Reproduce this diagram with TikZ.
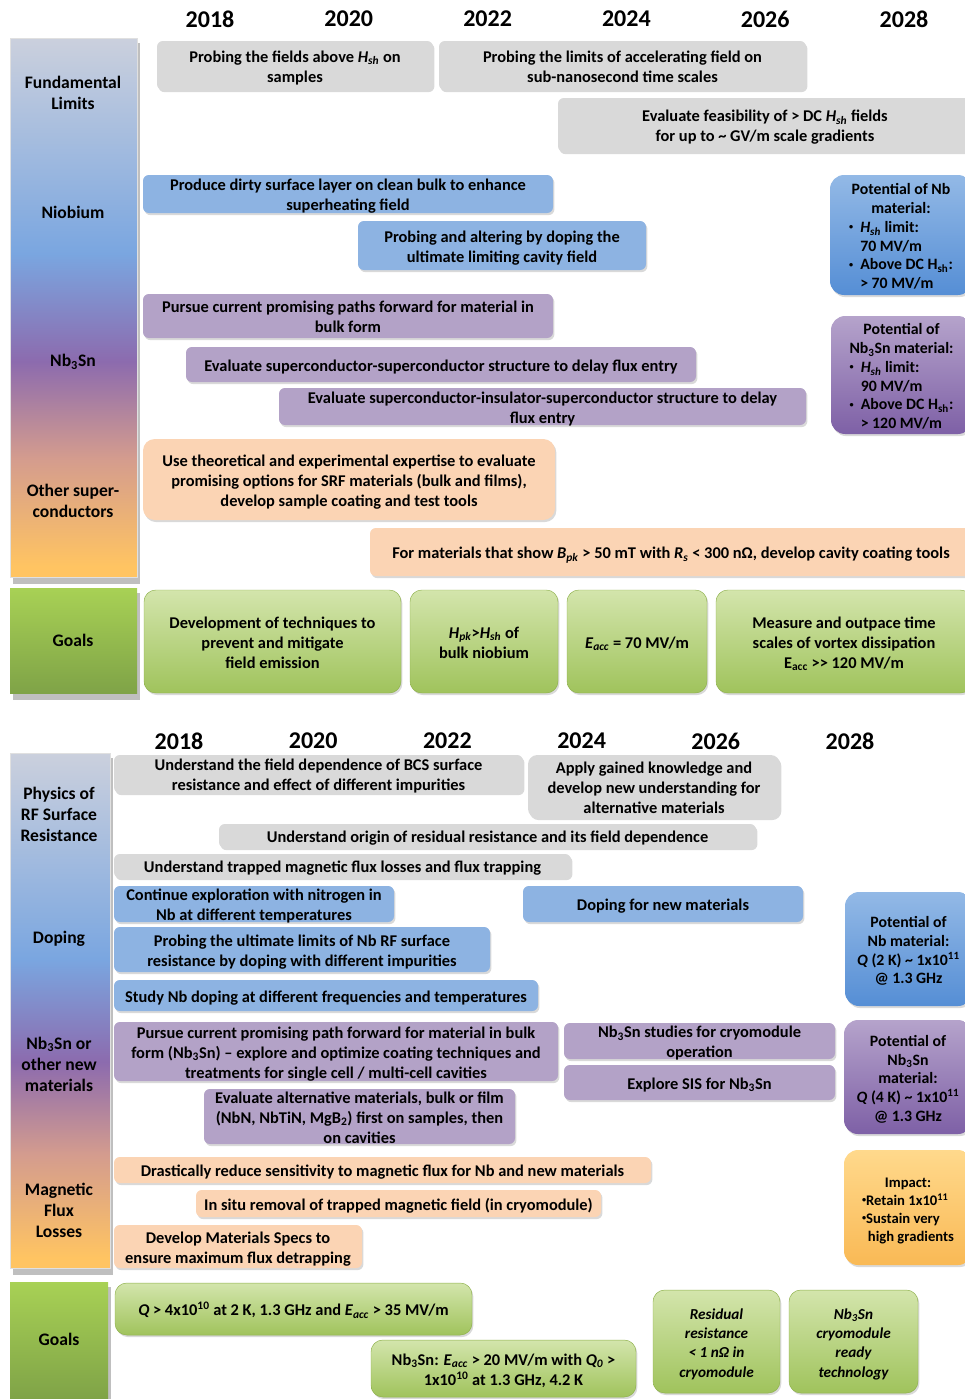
\documentclass[tikz,border=0pt]{standalone}
\usepackage{fontspec}
\setmainfont{Carlito}
\usetikzlibrary{shadows}

\definecolor{boxgrey}{HTML}{D9D9D9}
\definecolor{boxblue}{HTML}{8DB3E2}
\definecolor{boxpurple}{HTML}{B3A2C7}
\definecolor{boxpeach}{HTML}{FBD4B4}
\definecolor{potbluetop}{HTML}{93B9E6}
\definecolor{potbluebot}{HTML}{558ED5}
\definecolor{potpurptop}{HTML}{B5A3CB}
\definecolor{potpurpbot}{HTML}{7E60A6}
\definecolor{impacttop}{HTML}{FFD98C}
\definecolor{impactbot}{HTML}{F9B955}
\definecolor{goaltop}{HTML}{D3E5AC}
\definecolor{goalbot}{HTML}{A0C35C}
\definecolor{goalline}{HTML}{8DB04A}
\definecolor{bargrey}{HTML}{CBD0DD}
\definecolor{barblue}{HTML}{7AA6E0}
\definecolor{barpurple}{HTML}{8C6BAE}
\definecolor{barrose}{HTML}{D49C8E}
\definecolor{barorange}{HTML}{FFC462}
\definecolor{bargreentop}{HTML}{A8D155}
\definecolor{bargreenbot}{HTML}{7FA347}

\pgfdeclareverticalshading{roadbar}{100bp}{color(0bp)=(barorange); color(26bp)=(barorange); color(36bp)=(barrose); color(45bp)=(barpurple); color(55bp)=(barblue); color(75bp)=(bargrey); color(100bp)=(bargrey)}

\newcommand{\Hsh}{\textit{H}\textsubscript{\textit{sh}}}
\newcommand{\Eacc}{\textit{E}\textsubscript{\textit{acc}}}
\newcommand{\NbSn}{Nb\textsubscript{3}Sn}
\newcommand{\dotitem}{\raisebox{0.18em}{\scriptsize\textbullet}}
% box between two corners (in px): style, name, x1, y1, x2, y2, text
\newcommand{\taskbox}[7]{\node[#1, minimum width={(#5-#3)*0.03cm}, minimum height={(#6-#4)*0.03cm}] (#2) at ({(#3+#5)/2},{(#4+#6)/2}) {\rule{0pt}{16.5pt}#7\strut};}

\begin{document}
\begin{tikzpicture}[x=0.03cm, y=-0.03cm,
    task/.style={rounded corners=5pt, inner xsep=0pt, inner ysep=-6pt, align=center,
      font=\bfseries\fontsize{14}{17}\selectfont,
      drop shadow={opacity=0.3, shadow xshift=1.2pt, shadow yshift=-1.8pt}},
    greytask/.style={task, fill=boxgrey},
    bluetask/.style={task, fill=boxblue},
    purpletask/.style={task, fill=boxpurple},
    peachtask/.style={task, fill=boxpeach},
    potential/.style={task, rounded corners=12pt, font=\bfseries\fontsize{13.5}{16}\selectfont},
    goal/.style={task, rounded corners=10pt, draw=goalline, top color=goaltop, bottom color=goalbot},
    catlabel/.style={align=center, font=\bfseries\fontsize{15}{18}\selectfont},
    year/.style={font=\bfseries\fontsize{20.5}{24}\selectfont}]

  \useasboundingbox (0,0) rectangle (965,1399);

  % ---------- top chart ----------
  % years
  \foreach \yr [count=\i from 0] in {2018,2020,2022,2024,2026,2028}
    \node[year] (yrA\yr) at (210+138.8*\i,19) {\yr};

  % category bar
  \fill[black!25] (13,43) rectangle (140,584);
  \shade[shading=roadbar, draw=black!12] (10,38) rectangle (137,577);
  \fill[black!25] (13,593) rectangle (140,700);
  \shade[top color=bargreentop, bottom color=bargreenbot] (10,588) rectangle (137,693);

  \node[catlabel] (catFund) at (73,93) {Fundamental\\Limits};
  \node[catlabel] (catNb) at (73,212) {Niobium};
  \node[catlabel] (catNbSn) at (73,362) {\NbSn};
  \node[catlabel] (catOther) at (73,501) {Other super-\\conductors};
  \node[catlabel] (catGoalsA) at (73,640) {Goals};

  % fundamental limits
  \taskbox{greytask}{probeHsh}{157}{41}{433}{90}{Probing the fields above \Hsh{} on\\samples}
  \taskbox{greytask}{probeSubns}{439}{41}{806}{90}{Probing the limits of accelerating field on\\sub-nanosecond time scales}
  \taskbox{greytask}{evalGV}{558}{98}{972}{152}{Evaluate feasibility of > DC \Hsh{} fields\\for up to \textasciitilde{} GV/m scale gradients}

  % niobium
  \taskbox{bluetask}{dirtyLayer}{143}{175}{553}{213}{Produce dirty surface layer on clean bulk to enhance\\superheating field}
  \taskbox{bluetask}{dopeLimit}{358}{221}{646}{270}{Probing and altering by doping the\\ultimate limiting cavity field}
  \taskbox{potential, top color=potbluetop, bottom color=potbluebot}{potNbA}{830}{175}{972}{295}
    {Potential of Nb\\material:\\
     \begin{tabular}[t]{@{}l@{\hspace{6pt}}l@{}}
       \dotitem & \Hsh{} limit:\\
                & 70 MV/m\\
       \dotitem & Above DC H\textsubscript{sh}:\\
                & > 70 MV/m
     \end{tabular}}

  % Nb3Sn
  \taskbox{purpletask}{pursueBulk}{143}{294}{553}{338}{Pursue current promising paths forward for material in\\bulk form}
  \taskbox{purpletask}{evalSS}{186}{347}{696}{382}{Evaluate superconductor-superconductor structure to delay flux entry}
  \taskbox{purpletask}{evalSIS}{279}{388}{806}{425}{Evaluate superconductor-insulator-superconductor structure to delay\\flux entry}
  \taskbox{potential, top color=potpurptop, bottom color=potpurpbot}{potNbSnA}{831}{316}{972}{434}
    {Potential of\\\NbSn{} material:\\
     \begin{tabular}[t]{@{}l@{\hspace{6pt}}l@{}}
       \dotitem & \Hsh{} limit:\\
                & 90 MV/m\\
       \dotitem & Above DC H\textsubscript{sh}:\\
                & > 120 MV/m
     \end{tabular}}

  % other superconductors
  \taskbox{peachtask, rounded corners=10pt}{useExpertise}{143}{439}{555}{520}{Use theoretical and experimental expertise to evaluate\\promising options for SRF materials (bulk and films),\\develop sample coating and test tools}
  \taskbox{peachtask}{coatTools}{370}{528}{972}{576}{For materials that show \textit{B}\textsubscript{\textit{pk}} > 50 mT with \textit{R}\textsubscript{\textit{s}} < 300 nΩ, develop cavity coating tools}

  % goals
  \taskbox{goal}{goalFE}{144}{590}{401}{693}{Development of techniques to\\prevent and mitigate\\field emission}
  \taskbox{goal}{goalHpk}{410}{590}{558}{693}{\textit{H}\textsubscript{\textit{pk}}>\Hsh{} of\\bulk niobium}
  \taskbox{goal}{goalEacc}{567}{590}{707}{693}{\Eacc{} = 70 MV/m}
  \taskbox{goal}{goalVortex}{716}{590}{972}{693}{Measure and outpace time\\scales of vortex dissipation\\E\textsubscript{acc} >{}> 120 MV/m}

  % ---------- bottom chart ----------
  % years
  \foreach \yr [count=\i from 0] in {2018,2020,2022,2024,2026,2028}
    \node[year] (yrB\yr) at (179+134.2*\i,741) {\yr};

  % category bar
  \fill[black!25] (13,758) rectangle (113,1275);
  \shade[shading=roadbar, draw=black!12] (10,753) rectangle (110,1268);
  \fill[black!25] (13,1287) rectangle (111,1399);
  \shade[top color=bargreentop, bottom color=bargreenbot] (10,1282) rectangle (108,1399);

  \node[catlabel] (catRs) at (59,814) {Physics of\\RF Surface\\Resistance};
  \node[catlabel] (catDoping) at (59,939) {Doping};
  \node[catlabel] (catNew) at (59,1064) {\NbSn{} or\\other new\\materials};
  \node[catlabel] (catFlux) at (59,1210) {Magnetic\\Flux\\Losses};
  \node[catlabel] (catGoalsB) at (59,1339) {Goals};

  % physics of RF surface resistance
  \taskbox{greytask}{bcsField}{114}{755}{523}{793}{Understand the field dependence of BCS surface\\resistance and effect of different impurities}
  \taskbox{greytask, rounded corners=8pt}{applyKnow}{528}{755}{780}{818}{Apply gained knowledge and\\develop new understanding for\\alternative materials}
  \taskbox{greytask}{residual}{219}{824}{756}{848}{Understand origin of residual resistance and its field dependence}
  \taskbox{greytask}{trapped}{114}{854}{571}{878}{Understand trapped magnetic flux losses and flux trapping}

  % doping
  \taskbox{bluetask}{nitrogen}{114}{886}{394}{922}{Continue exploration with nitrogen in\\Nb at different temperatures}
  \taskbox{bluetask}{dopeNew}{523}{886}{803}{922}{Doping for new materials}
  \taskbox{bluetask}{dopeUltimate}{114}{927}{490}{972}{Probing the ultimate limits of Nb RF surface\\resistance by doping with different impurities}
  \taskbox{bluetask}{dopeFreq}{114}{980}{538}{1011}{Study Nb doping at different frequencies and temperatures}
  \taskbox{potential, top color=potbluetop, bottom color=potbluebot}{potNbB}{845}{892}{972}{1006}
    {Potential of\\Nb material:\\\textit{Q} (2 K) \textasciitilde{} 1x10\textsuperscript{11}\\@ 1.3 GHz}

  % Nb3Sn or other new materials
  \taskbox{purpletask}{pursuePath}{114}{1022}{558}{1081}{Pursue current promising path forward for material in bulk\\form (\NbSn) -- explore and optimize coating techniques and\\treatments for single cell / multi-cell cavities}
  \taskbox{purpletask}{cryoStudy}{564}{1023}{835}{1059}{\NbSn{} studies for cryomodule\\operation}
  \taskbox{purpletask}{exploreSIS}{564}{1065}{835}{1100}{Explore SIS for \NbSn}
  \taskbox{purpletask}{evalAlt}{204}{1089}{515}{1144}{Evaluate alternative materials, bulk or film\\(NbN, NbTiN, MgB\textsubscript{2}) first on samples, then\\on cavities}
  \taskbox{potential, top color=potpurptop, bottom color=potpurpbot}{potNbSnB}{844}{1020}{972}{1134}
    {Potential of\\\NbSn\\material:\\\textit{Q} (4 K) \textasciitilde{} 1x10\textsuperscript{11}\\@ 1.3 GHz}

  % magnetic flux losses
  \taskbox{peachtask}{reduceSens}{114}{1157}{651}{1183}{Drastically reduce sensitivity to magnetic flux for Nb and new materials}
  \taskbox{peachtask}{inSitu}{196}{1190}{601}{1217}{In situ removal of trapped magnetic field (in cryomodule)}
  \taskbox{peachtask}{matSpecs}{114}{1225}{362}{1268}{Develop Materials Specs to\\ensure maximum flux detrapping}
  \taskbox{potential, top color=impacttop, bottom color=impactbot, font=\bfseries\fontsize{12.5}{15.5}\selectfont}{impact}{844}{1150}{972}{1265}
    {Impact:\\
     \begin{tabular}[t]{@{}l@{}}
       \dotitem Retain 1x10\textsuperscript{11}\\
       \dotitem Sustain very\\
       \hspace{5pt}high gradients
     \end{tabular}}

  % goals
  \taskbox{goal}{goalQ}{115}{1283}{472}{1335}{\textit{Q} > 4x10\textsuperscript{10} at 2 K, 1.3 GHz and \Eacc{} > 35 MV/m}
  \taskbox{goal}{goalNbSn}{371}{1340}{636}{1397}{\NbSn: \Eacc{} > 20 MV/m with \textit{Q}\textsubscript{\textit{0}} >\\1x10\textsuperscript{10} at 1.3 GHz, 4.2 K}
  \taskbox{goal, font=\bfseries\itshape\fontsize{13}{16.5}\selectfont}{goalRes}{653}{1290}{780}{1393}{Residual\\resistance\\< 1 nΩ in\\cryomodule}
  \taskbox{goal, font=\bfseries\itshape\fontsize{13}{16.5}\selectfont}{goalCryo}{789}{1290}{918}{1393}{\NbSn\\cryomodule\\ready\\technology}

\end{tikzpicture}
\end{document}
